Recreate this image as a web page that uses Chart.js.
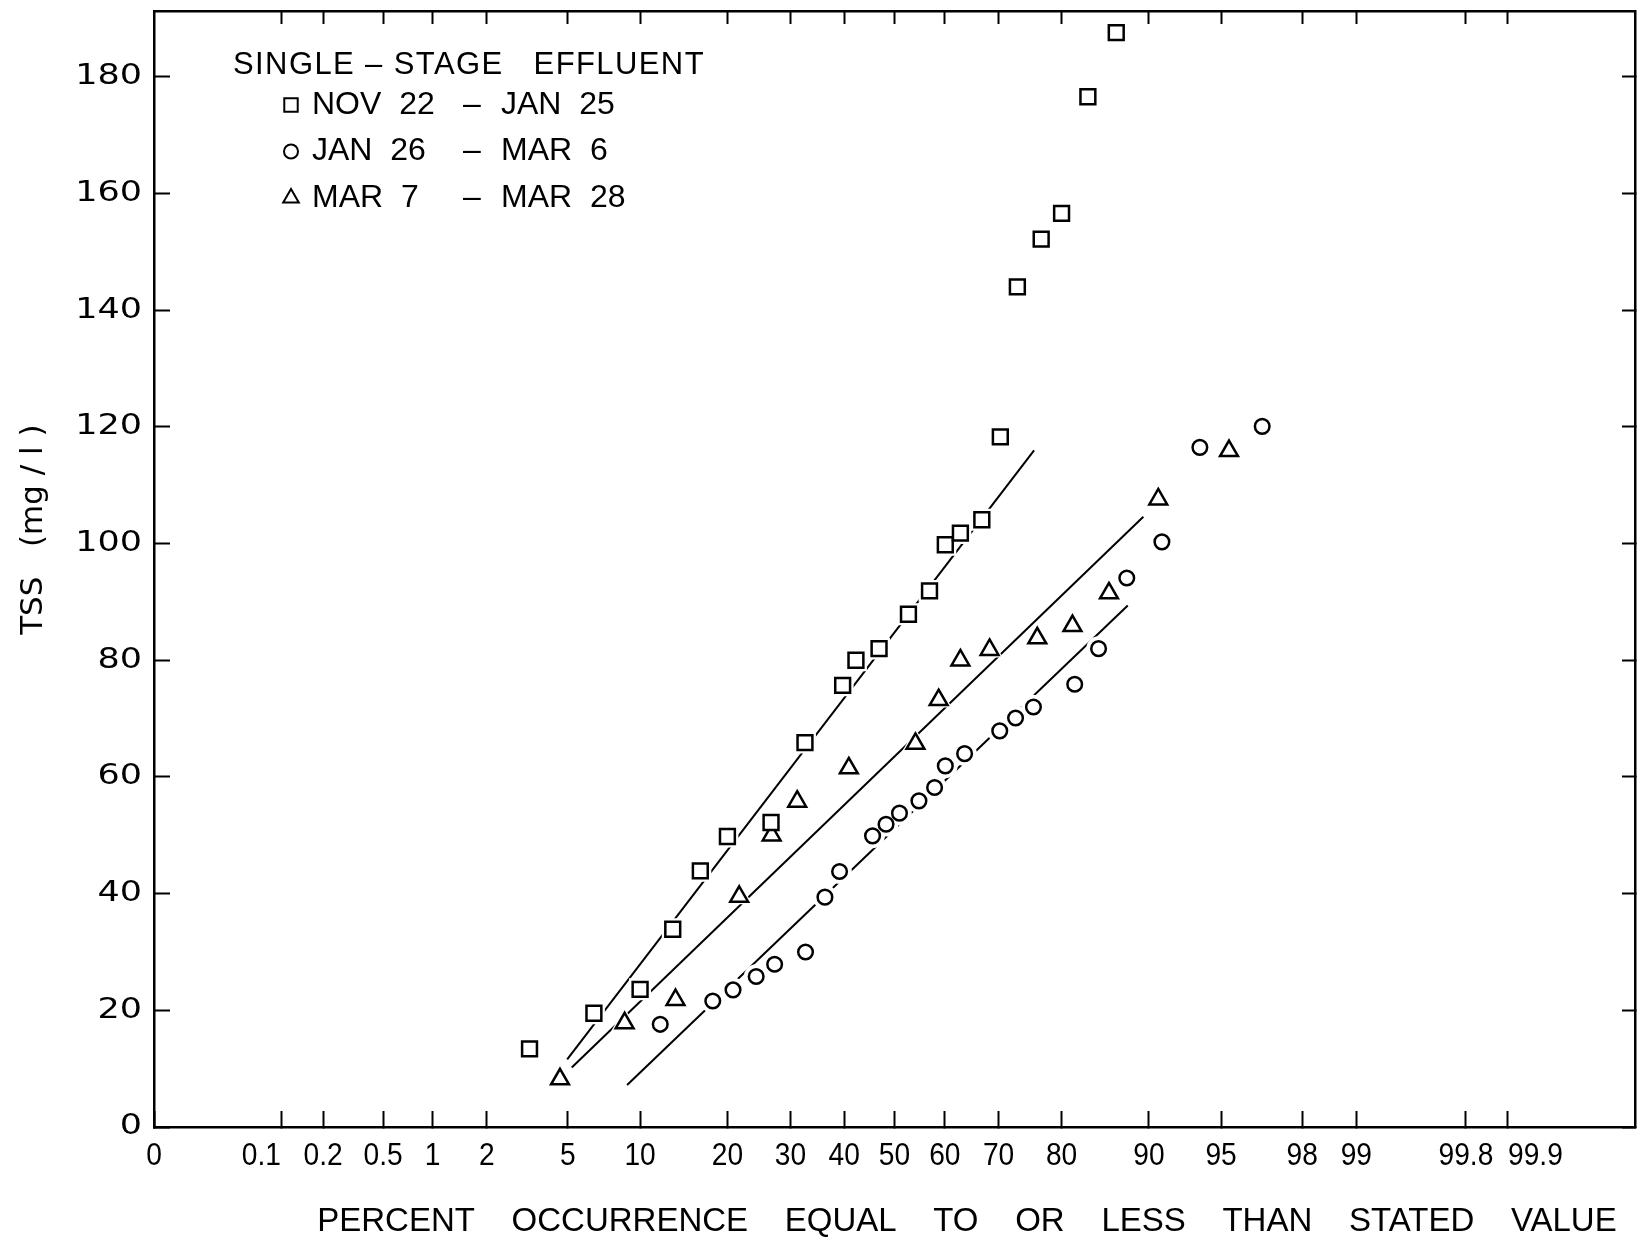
<!DOCTYPE html>
<html>
<head>
<meta charset="utf-8">
<title>TSS - single-stage effluent</title>
<script src="https://cdn.jsdelivr.net/npm/chart.js@4/dist/chart.umd.min.js"></script>
<style>
  html, body { margin: 0; padding: 0; background: #fff; }
  #wrap { width: 1644px; height: 1238px; }
</style>
</head>
<body>
<div id="wrap"><canvas id="tssChart" width="1644" height="1238"></canvas></div>
<script>
// axis ticks
const xTickValues = [0, 0.1, 0.2, 0.5, 1, 2, 5, 10, 20, 30, 40, 50, 60, 70, 80, 90, 95, 98, 99, 99.8, 99.9];
const yTickValues = [0, 20, 40, 60, 80, 100, 120, 140, 160, 180];
const yAxisMax = 191.3;

// NOV 22 - JAN 25 (squares)
const squarePct = [3.3, 6.5, 10.0, 13.2, 16.4, 20.0, 26.7, 32.6, 39.7, 42.3, 46.9, 52.8, 57.0, 60.1, 63.0, 67.0, 70.3, 73.2, 77.0, 80.0, 83.5, 86.8];
const squareTss = [13.4, 19.5, 23.6, 33.9, 43.9, 49.8, 52.2, 65.9, 75.7, 80.0, 82.0, 87.9, 91.9, 99.8, 101.8, 104.1, 118.3, 144.0, 152.2, 156.6, 176.6, 187.6];

// JAN 26 - MAR 6 (circles)
const circlePct = [11.9, 18.0, 20.8, 24.3, 27.3, 32.7, 36.3, 39.1, 45.6, 48.3, 51.0, 54.9, 58.0, 60.1, 63.8, 70.2, 72.9, 75.8, 81.8, 84.8, 87.9, 91.1, 93.8, 96.8];
const circleTss = [17.6, 21.6, 23.5, 25.8, 27.9, 30.0, 39.4, 43.8, 49.9, 51.9, 53.8, 55.9, 58.2, 61.9, 64.0, 67.9, 70.1, 72.0, 75.9, 82.0, 94.1, 100.3, 116.5, 120.1];

// MAR 7 - MAR 28 (triangles)
const trianglePct = [4.6, 8.7, 13.5, 21.7, 26.8, 31.2, 40.9, 54.2, 58.8, 63.0, 68.4, 76.4, 81.5, 86.0, 90.8, 95.4];
const triangleTss = [8.2, 17.8, 21.8, 39.5, 50.0, 55.8, 61.5, 65.7, 73.2, 80.0, 81.8, 83.8, 85.9, 91.5, 107.6, 115.9];

// fitted lines (end points)
const squareFitPct = [4.96, 75.9];
const squareFitTss = [11.6, 116.0];
const triangleFitPct = [5.2, 89.5];
const triangleFitTss = [10.2, 104.6];
const circleFitPct = [8.9, 88.0];
const circleFitTss = [7.2, 89.4];

const legendTitle = 'SINGLE – STAGE   EFFLUENT';
const legendFrom = ['NOV  22', 'JAN  26', 'MAR  7'];
const legendTo = ['JAN  25', 'MAR  6', 'MAR  28'];
const xTitle = 'PERCENT    OCCURRENCE    EQUAL    TO    OR    LESS    THAN    STATED    VALUE  ';
const yTitle = 'TSS   (mg / l )';

// the two crowded end labels sit beside their ticks
const xLabelAlign = { 0.1: 'right', 99.9: 'left' };

// inverse normal cdf (Acklam)
function probit(p) {
    const a = [-3.969683028665376e+01, 2.209460984245205e+02, -2.759285104469687e+02, 1.383577518672690e+02, -3.066479806614716e+01, 2.506628277459239e+00];
    const b = [-5.447609879822406e+01, 1.615858368580409e+02, -1.556989798598866e+02, 6.680131188771972e+01, -1.328068155288572e+01];
    const c = [-7.784894002430293e-03, -3.223964580411365e-01, -2.400758277161838e+00, -2.549671348404180e+00, 4.374664141464968e+00, 2.938163982698783e+00];
    const d = [7.784695709041462e-03, 3.224671290700398e-01, 2.445134137142996e+00, 3.754408661907416e+00];
    const pl = 0.02425;
    let q, r;
    if (p < pl) {
        q = Math.sqrt(-2 * Math.log(p));
        return (((((c[0] * q + c[1]) * q + c[2]) * q + c[3]) * q + c[4]) * q + c[5]) / ((((d[0] * q + d[1]) * q + d[2]) * q + d[3]) * q + 1);
    }
    if (p > 1 - pl) {
        q = Math.sqrt(-2 * Math.log(1 - p));
        return -(((((c[0] * q + c[1]) * q + c[2]) * q + c[3]) * q + c[4]) * q + c[5]) / ((((d[0] * q + d[1]) * q + d[2]) * q + d[3]) * q + 1);
    }
    q = p - 0.5;
    r = q * q;
    return (((((a[0] * r + a[1]) * r + a[2]) * r + a[3]) * r + a[4]) * r + a[5]) * q / (((((b[0] * r + b[1]) * r + b[2]) * r + b[3]) * r + b[4]) * r + 1);
}

function normCdf(z) {
    const t = 1 / (1 + 0.2316419 * Math.abs(z));
    const dens = 0.3989423 * Math.exp(-z * z / 2);
    const p = dens * t * (0.3193815 + t * (-0.3565638 + t * (1.781478 + t * (-1.821256 + t * 1.330274))));
    return z > 0 ? 1 - p : p;
}

// normal probability paper axis (values in percent)
class ProbabilityScale extends Chart.Scale {
    static id = 'probability';
    static defaults = {};

    parse(raw) {
        const v = +raw;
        return isFinite(v) ? v : null;
    }
    determineDataLimits() {
        this.min = 0;
        this.max = 100;
    }
    buildTicks() {
        return (this.options.tickValues || []).map(v => ({ value: v }));
    }
    getLabelForValue(v) {
        return String(v);
    }
    configure() {
        super.configure();
        this._zMin = -this.options.zRange;
        this._zMax = this.options.zRange;
    }
    toZ(v) {
        if (v <= 0) return this._zMin;
        if (v >= 100) return this._zMax;
        return Math.min(this._zMax, Math.max(this._zMin, probit(v / 100)));
    }
    getPixelForValue(v) {
        return this.getPixelForDecimal((this.toZ(v) - this._zMin) / (this._zMax - this._zMin));
    }
    getValueForPixel(px) {
        const z = this._zMin + this.getDecimalForPixel(px) * (this._zMax - this._zMin);
        return 100 * normCdf(z);
    }
}
Chart.register(ProbabilityScale);

const toPoints = (xs, ys) => xs.map((x, i) => ({ x: x, y: ys[i] }));

const series = [
    { pct: squarePct, tss: squareTss, style: 'rect', radius: 10.5, fitPct: squareFitPct, fitTss: squareFitTss },
    { pct: circlePct, tss: circleTss, style: 'circle', radius: 7.3, fitPct: circleFitPct, fitTss: circleFitTss },
    { pct: trianglePct, tss: triangleTss, style: 'triangle', radius: 10.3, fitPct: triangleFitPct, fitTss: triangleFitTss }
];

const datasets = [];
series.forEach(s => {
    // fitted line
    datasets.push({
        data: toPoints(s.fitPct, s.fitTss),
        showLine: true,
        borderColor: '#000',
        borderWidth: 2,
        pointRadius: 0,
        order: 3
    });
    // white gap round the markers
    datasets.push({
        data: toPoints(s.pct, s.tss),
        showLine: false,
        pointStyle: s.style,
        pointRadius: s.radius + 5,
        pointBackgroundColor: '#fff',
        pointBorderWidth: 0,
        order: 2
    });
    datasets.push({
        data: toPoints(s.pct, s.tss),
        showLine: false,
        pointStyle: s.style,
        pointRadius: s.radius,
        pointBackgroundColor: '#fff',
        pointBorderColor: '#000',
        pointBorderWidth: 2.5,
        order: 1
    });
});

// key in the upper left of the plot
const seriesKey = {
    id: 'seriesKey',
    afterDraw(chart) {
        const ctx = chart.ctx;
        const left = chart.chartArea.left;
        ctx.save();
        ctx.fillStyle = '#000';
        ctx.textBaseline = 'middle';
        ctx.textAlign = 'left';
        ctx.font = '31px "Liberation Sans", Arial, sans-serif';
        ctx.letterSpacing = '1.4px';
        ctx.fillText(legendTitle, left + 79, 65);
        ctx.letterSpacing = '0px';
        ctx.font = '32px "Liberation Sans", Arial, sans-serif';
        const keyRadius = [9.5, 7, 9];
        legendFrom.forEach((from, i) => {
            const y = 105 + i * 46.5;
            ctx.fillStyle = '#fff';
            ctx.strokeStyle = '#000';
            ctx.lineWidth = 2;
            Chart.helpers.drawPoint(ctx, { pointStyle: series[i].style, radius: keyRadius[i], borderWidth: 2, rotation: 0 }, left + 137, y);
            ctx.fillStyle = '#000';
            ctx.fillText(from, left + 158, y);
            ctx.fillText('–', left + 309, y);
            ctx.fillText(legendTo[i], left + 347, y);
        });
        ctx.restore();
    }
};

// tick labels: percent narrow, TSS wide (lettering of the original figure)
const axisLabels = {
    id: 'axisLabels',
    afterDraw(chart) {
        const ctx = chart.ctx;
        const area = chart.chartArea;
        const xs = chart.scales.x;
        const ys = chart.scales.y;
        ctx.save();
        ctx.fillStyle = '#000';
        ctx.textBaseline = 'middle';
        ctx.font = '32px "Liberation Sans", Arial, sans-serif';
        xs.ticks.forEach((t, i) => {
            ctx.save();
            ctx.translate(xs.getPixelForTick(i), area.bottom + 29);
            ctx.scale(0.88, 1);
            ctx.textAlign = xLabelAlign[t.value] || 'center';
            ctx.fillText(String(t.value), 0, 0);
            ctx.restore();
        });
        ctx.font = '28px "DejaVu Sans", sans-serif';
        ys.ticks.forEach((t, i) => {
            ctx.save();
            ctx.translate(area.left - 12, ys.getPixelForTick(i));
            ctx.scale(1.25, 1);
            ctx.textAlign = 'right';
            ctx.fillText(String(t.value), 0, 0);
            ctx.restore();
        });
        ctx.restore();
    }
};

const frame = { display: true, color: '#000', width: 2.5 };
const black = '#000';
const noPadding = s => { s.paddingLeft = 0; s.paddingRight = 0; s.paddingTop = 0; s.paddingBottom = 0; };

new Chart(document.getElementById('tssChart'), {
    type: 'scatter',
    data: { datasets: datasets },
    options: {
        responsive: false,
        animation: false,
        events: [],
        layout: { padding: 0, autoPadding: false },
        plugins: {
            legend: { display: false },
            tooltip: { enabled: false }
        },
        scales: {
            x: {
                type: 'probability',
                position: 'bottom',
                zRange: 3.73,
                tickValues: xTickValues,
                border: frame,
                grid: { drawOnChartArea: false, color: black, tickColor: black, tickLength: -16, tickWidth: 2 },
                ticks: { display: false, autoSkip: false, maxRotation: 0 },
                title: {
                    display: true,
                    text: xTitle,
                    align: 'end',
                    color: black,
                    font: { family: '"Liberation Sans", Arial, sans-serif', size: 33, lineHeight: 1 },
                    padding: { top: 0, bottom: 0 }
                },
                afterFit: s => { noPadding(s); s.height = 111; }
            },
            x2: {
                type: 'probability',
                position: 'top',
                zRange: 3.73,
                tickValues: xTickValues.slice(1),
                border: frame,
                grid: { drawOnChartArea: false, color: black, tickColor: black, tickLength: -13, tickWidth: 2 },
                ticks: { display: false },
                afterFit: s => { noPadding(s); s.height = 11; }
            },
            y: {
                type: 'linear',
                position: 'left',
                min: 0,
                max: yAxisMax,
                afterBuildTicks: s => { s.ticks = yTickValues.map(v => ({ value: v })); },
                border: frame,
                grid: { drawOnChartArea: false, color: black, tickColor: black, tickLength: -16, tickWidth: 2 },
                ticks: { display: false },
                title: {
                    display: true,
                    text: ' '.repeat(8) + yTitle,
                    color: black,
                    font: { family: '"DejaVu Sans", sans-serif', size: 31 },
                    padding: { top: 15, bottom: 0 }
                },
                afterFit: s => { noPadding(s); s.width = 154; }
            },
            y2: {
                type: 'linear',
                position: 'right',
                min: 0,
                max: yAxisMax,
                afterBuildTicks: s => { s.ticks = yTickValues.map(v => ({ value: v })); },
                border: frame,
                grid: { drawOnChartArea: false, color: black, tickColor: black, tickLength: -13, tickWidth: 2 },
                ticks: { display: false },
                afterFit: s => { noPadding(s); s.width = 9; }
            }
        }
    },
    plugins: [seriesKey, axisLabels]
});
</script>
</body>
</html>
